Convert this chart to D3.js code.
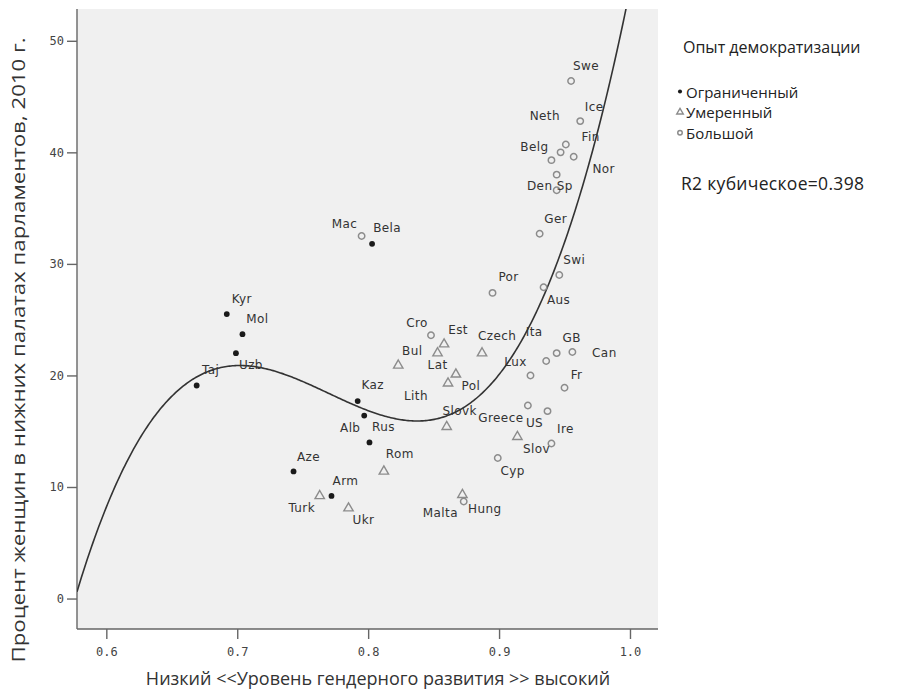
<!DOCTYPE html>
<html>
<head>
<meta charset="utf-8">
<script src="https://cdn.jsdelivr.net/npm/d3@7"></script>
<style>
  html, body { margin: 0; padding: 0; background: #fff; }
  svg { display: block; }
</style>
</head>
<body>
<svg id="chart" width="911" height="690"></svg>
<script>
// Country abbreviations, gender development level (x) and share of women in lower houses, 2010 (y)
const countries = ["Kyr","Mol","Uzb","Taj","Kaz","Alb","Rus","Aze","Arm","Bela",
  "Turk","Ukr","Rom","Bul","Lat","Est","Lith","Pol","Slovk","Czech","Slov","Malta",
  "Mac","Cro","Por","Aus","Swi","Ger","Swe","Ice","Neth","Fin","Nor","Belg","Den","Sp",
  "GB","Can","Ita","Lux","Fr","Greece","US","Ire","Cyp","Hung"];
const genderDev = [0.692,0.704,0.699,0.669,0.792,0.797,0.801,0.743,0.772,0.803,
  0.763,0.785,0.812,0.823,0.853,0.858,0.861,0.867,0.860,0.887,0.914,0.872,
  0.795,0.848,0.895,0.934,0.946,0.931,0.955,0.962,0.951,0.947,0.957,0.940,0.944,0.944,
  0.944,0.956,0.936,0.924,0.950,0.922,0.937,0.940,0.899,0.873];
const womenShare = [25.5,23.7,22.0,19.1,17.7,16.4,14.0,11.4,9.2,31.8,
  9.2,8.1,11.4,20.9,22.0,22.8,19.3,20.1,15.4,22.0,14.5,9.3,
  32.5,23.6,27.4,27.9,29.0,32.7,46.4,42.8,40.7,40.0,39.6,39.3,38.0,36.6,
  22.0,22.1,21.3,20.0,18.9,17.3,16.8,13.9,12.6,8.7];
// 0 = limited, 1 = moderate, 2 = extensive democratisation experience
const groupIndex = [0,0,0,0,0,0,0,0,0,0,
  1,1,1,1,1,1,1,1,1,1,1,1,
  2,2,2,2,2,2,2,2,2,2,2,2,2,2,
  2,2,2,2,2,2,2,2,2,2];
const groupNames = ["Ограниченный", "Умеренный", "Большой"];
const xTicks = [0.6, 0.7, 0.8, 0.9, 1.0];
const yTicks = [0, 10, 20, 30, 40, 50];
const legendTitle = "Опыт демократизации";
const fitLabel = "R2 кубическое=0.398";
const xTitle = "Низкий <<Уровень гендерного развития >> высокий";
const yTitle = "Процент женщин в нижних палатах парламентов, 2010 г.";

// Label placement around each marker (pixels from the point)
const labelOffset = {
  Kyr:[15,-15], Mol:[15,-15], Uzb:[15,12], Taj:[14,-15], Kaz:[15,-16], Alb:[-14,12],
  Rus:[14,-15], Aze:[15,-14], Arm:[14,-15], Bela:[15,-16],
  Turk:[-18,12], Ukr:[15,12], Rom:[16,-17], Bul:[14,-14], Lat:[0,12], Est:[14,-14],
  Lith:[-32,13], Pol:[15,12], Slovk:[13,-16], Czech:[15,-17], Slov:[19,12], Malta:[-22,18],
  Mac:[-17,-12], Cro:[-14,-12], Por:[16,-16], Aus:[15,13], Swi:[15,-15], Ger:[16,-15],
  Swe:[15,-15], Ice:[14,-14], Neth:[-21,-29], Fin:[30,-15], Nor:[30,12], Belg:[-17,-13],
  Den:[-17,11], Sp:[8,-4], GB:[15,-15], Can:[32,1], Ita:[-12,-29], Lux:[-15,-13],
  Fr:[12,-13], Greece:[-27,12], US:[-13,12], Ire:[14,-14], Cyp:[15,13], Hung:[21,8]
};

const points = countries.map((c, i) => ({
  name: c, x: genderDev[i], y: womenShare[i], g: groupIndex[i]
}));

const svg = d3.select("#chart");
const plot = { left: 77, right: 658, top: 9, bottom: 629 };

const x = d3.scaleLinear().domain([0.5776, 1.0214]).range([plot.left, plot.right]);
const y = d3.scaleLinear().domain([-2.73, 52.85]).range([plot.bottom, plot.top]);

// plot background
svg.append("rect")
  .attr("x", plot.left).attr("y", plot.top)
  .attr("width", plot.right - plot.left).attr("height", plot.bottom - plot.top)
  .attr("fill", "#f0f0f0");

svg.append("clipPath").attr("id", "plotClip")
  .append("rect")
  .attr("x", plot.left).attr("y", plot.top)
  .attr("width", plot.right - plot.left).attr("height", plot.bottom - plot.top);

// axes
const xAxis = d3.axisBottom(x).tickValues(xTicks).tickFormat(d3.format(".1f"))
  .tickSize(10).tickSizeOuter(0);
const yAxis = d3.axisLeft(y).tickValues(yTicks).tickFormat(d3.format("d"))
  .tickSize(10).tickSizeOuter(0);

const gx = svg.append("g").attr("transform", `translate(0,${plot.bottom})`).call(xAxis);
const gy = svg.append("g").attr("transform", `translate(${plot.left},0)`).call(yAxis);
[gx, gy].forEach(g => {
  g.select(".domain").attr("stroke", "#666").attr("stroke-width", 1.4);
  g.selectAll(".tick line").attr("stroke", "#666").attr("stroke-width", 1.4);
  g.selectAll(".tick text")
    .attr("fill", "#444")
    .style("font-family", "'DejaVu Sans Mono', monospace")
    .style("font-size", "12px");
});
gx.selectAll(".tick text").attr("dy", "1.15em");
gy.selectAll(".tick text").attr("x", -13);
gx.select(".domain").attr("d", `M${plot.left},0H${plot.right}`);
gy.select(".domain").attr("d", `M0,${plot.top}V${plot.bottom}`);

// cubic least-squares fit of womenShare on genderDev
function cubicFit(xs, ys) {
  const c = 0.8;
  const A = Array.from({ length: 4 }, () => new Array(5).fill(0));
  xs.forEach((xv, i) => {
    const t = xv - c;
    const row = [1, t, t * t, t * t * t];
    for (let r = 0; r < 4; r++) {
      for (let k = 0; k < 4; k++) A[r][k] += row[r] * row[k];
      A[r][4] += row[r] * ys[i];
    }
  });
  for (let p = 0; p < 4; p++) {
    let m = p;
    for (let r = p + 1; r < 4; r++) if (Math.abs(A[r][p]) > Math.abs(A[m][p])) m = r;
    [A[p], A[m]] = [A[m], A[p]];
    for (let r = 0; r < 4; r++) {
      if (r === p) continue;
      const f = A[r][p] / A[p][p];
      for (let k = p; k < 5; k++) A[r][k] -= f * A[p][k];
    }
  }
  const b = A.map((row, i) => row[4] / row[i]);
  return xv => { const t = xv - c; return b[0] + b[1] * t + b[2] * t * t + b[3] * t * t * t; };
}
const fit = cubicFit(genderDev, womenShare);
const curveXs = d3.range(0, 401).map(i => x.domain()[0] + (x.domain()[1] - x.domain()[0]) * i / 400);
svg.append("path")
  .attr("clip-path", "url(#plotClip)")
  .attr("d", d3.line().x(d => x(d)).y(d => y(fit(d)))(curveXs))
  .attr("fill", "none").attr("stroke", "#333").attr("stroke-width", 1.6);

// markers
const triangle = d3.symbol().type(d3.symbolTriangle);
function drawMarker(sel, g, scale) {
  if (g === 0) {
    sel.append("circle").attr("r", 2.9 * scale).attr("fill", "#1a1a1a");
  } else if (g === 1) {
    sel.append("path").attr("d", triangle.size(38 * scale * scale)())
      .attr("fill", "none").attr("stroke", "#8c8c8c").attr("stroke-width", 1.4);
  } else {
    sel.append("circle").attr("r", 3.2 * scale)
      .attr("fill", "none").attr("stroke", "#8c8c8c").attr("stroke-width", 1.5);
  }
}

const marks = svg.append("g");
points.forEach(p => {
  const g = marks.append("g").attr("transform", `translate(${x(p.x)},${y(p.y)})`);
  drawMarker(g, p.g, 1);
});

// country labels
svg.append("g").selectAll("text").data(points).join("text")
  .attr("x", d => x(d.x) + labelOffset[d.name][0])
  .attr("y", d => y(d.y) + labelOffset[d.name][1])
  .attr("text-anchor", "middle").attr("dominant-baseline", "central")
  .style("font-family", "'DejaVu Sans', sans-serif")
  .style("font-size", "12px").style("letter-spacing", "0.4px")
  .attr("fill", "#333")
  .text(d => d.name);

// axis titles
svg.append("text")
  .attr("x", 378).attr("y", 678)
  .attr("text-anchor", "middle").attr("dominant-baseline", "central")
  .style("font-family", "'Open Sans', sans-serif").style("font-size", "18px")
  .attr("fill", "#333").text(xTitle);

svg.append("text")
  .attr("transform", "translate(18,350) rotate(-90)")
  .attr("text-anchor", "middle").attr("dominant-baseline", "central")
  .attr("textLength", 625).attr("lengthAdjust", "spacingAndGlyphs")
  .style("font-family", "'Open Sans', sans-serif").style("font-size", "19px")
  .attr("fill", "#333").text(yTitle);

// legend
const legend = svg.append("g");
legend.append("text").attr("x", 683).attr("y", 47)
  .attr("dominant-baseline", "central")
  .style("font-family", "'Open Sans', sans-serif").style("font-size", "16px")
  .attr("fill", "#222").text(legendTitle);

groupNames.forEach((name, i) => {
  const cy = 91.5 + i * 20.6;
  const m = legend.append("g").attr("transform", `translate(680,${cy})`);
  drawMarker(m, i, 0.7);
  legend.append("text").attr("x", 686).attr("y", cy)
    .attr("dominant-baseline", "central")
    .style("font-family", "'Open Sans', sans-serif").style("font-size", "15px")
    .attr("fill", "#222").text(name);
});

legend.append("text").attr("x", 681).attr("y", 183)
  .attr("dominant-baseline", "central")
  .style("font-family", "'Open Sans', sans-serif").style("font-size", "17.5px")
  .style("letter-spacing", "0.3px")
  .attr("fill", "#222").text(fitLabel);
</script>
</body>
</html>
